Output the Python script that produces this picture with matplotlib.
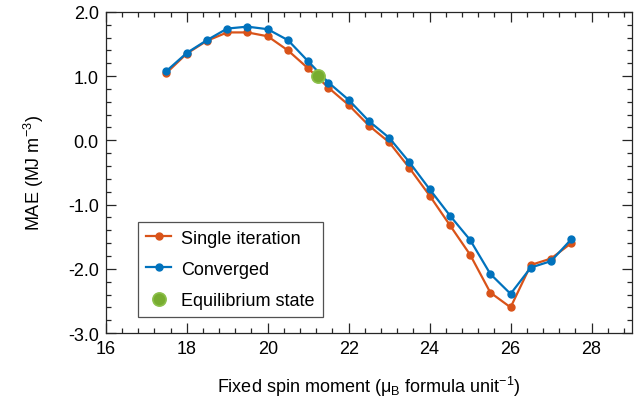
import matplotlib
matplotlib.use("Agg")
import matplotlib.pyplot as plt
from matplotlib.ticker import MultipleLocator, FormatStrFormatter

plt.rcParams['font.family'] = ['Liberation Sans', 'DejaVu Sans']
plt.rcParams['mathtext.fontset'] = 'custom'
plt.rcParams['mathtext.rm'] = 'Liberation Sans'
plt.rcParams['mathtext.it'] = 'Liberation Sans'
plt.rcParams['axes.unicode_minus'] = False

spin_moment = [17.5, 18.0, 18.5, 19.0, 19.5, 20.0, 20.5, 21.0, 21.5, 22.0, 22.5,
               23.0, 23.5, 24.0, 24.5, 25.0, 25.5, 26.0, 26.5, 27.0, 27.5]
single_iteration = [1.05, 1.35, 1.55, 1.68, 1.68, 1.62, 1.40, 1.12, 0.82, 0.55, 0.23,
                    -0.03, -0.43, -0.86, -1.32, -1.78, -2.37, -2.60, -1.94, -1.84, -1.60]
converged = [1.08, 1.36, 1.56, 1.74, 1.77, 1.73, 1.56, 1.23, 0.90, 0.63, 0.30,
             0.04, -0.34, -0.76, -1.17, -1.55, -2.08, -2.39, -1.98, -1.88, -1.54]
equilibrium_x = [21.25]
equilibrium_y = [1.0]

orange = '#D95319'
blue = '#0072BD'
green = '#77AC30'

fig = plt.figure(figsize=(6.41, 4.02), dpi=100)
ax = fig.add_axes([0.165, 0.169, 0.821, 0.799])

ax.plot(spin_moment, single_iteration, '-o', color=orange, lw=1.6, ms=5,
        label='Single iteration')
ax.plot(spin_moment, converged, '-o', color=blue, lw=1.6, ms=5,
        label='Converged')
ax.plot(equilibrium_x, equilibrium_y, 'o', color=green, mec='#8CC04A', mew=1.2,
        ms=9.5, ls='none', label='Equilibrium state')

ax.set_xlim(16, 29)
ax.set_ylim(-3, 2)
ax.xaxis.set_major_locator(MultipleLocator(2))
ax.xaxis.set_minor_locator(MultipleLocator(0.4))
ax.yaxis.set_major_locator(MultipleLocator(1))
ax.yaxis.set_minor_locator(MultipleLocator(0.2))
ax.yaxis.set_major_formatter(FormatStrFormatter('%.1f'))
ax.tick_params(which='both', direction='in', top=True, right=True,
               labelsize=13, color='#262626')
ax.tick_params(which='major', length=7, width=0.9, pad=5)
ax.tick_params(which='minor', length=3.5, width=0.9)
for s in ax.spines.values():
    s.set_linewidth(0.9)
    s.set_color('#262626')

ax.set_xlabel('Fixed spin moment (μ$_\\mathregular{B}$ formula unit$^\\mathregular{-1}$)',
              fontsize=13, labelpad=12)
ax.set_ylabel('MAE (MJ m$^\\mathregular{-3}$)', fontsize=13, labelpad=16)

leg = ax.legend(loc='lower left', bbox_to_anchor=(0.061, 0.05), borderaxespad=0,
                fontsize=13, frameon=True, fancybox=False, edgecolor='#262626',
                handlelength=1.4, handletextpad=0.55, borderpad=0.45,
                labelspacing=0.78)
leg.get_frame().set_linewidth(0.9)

fig.savefig('out.png', dpi=100)
